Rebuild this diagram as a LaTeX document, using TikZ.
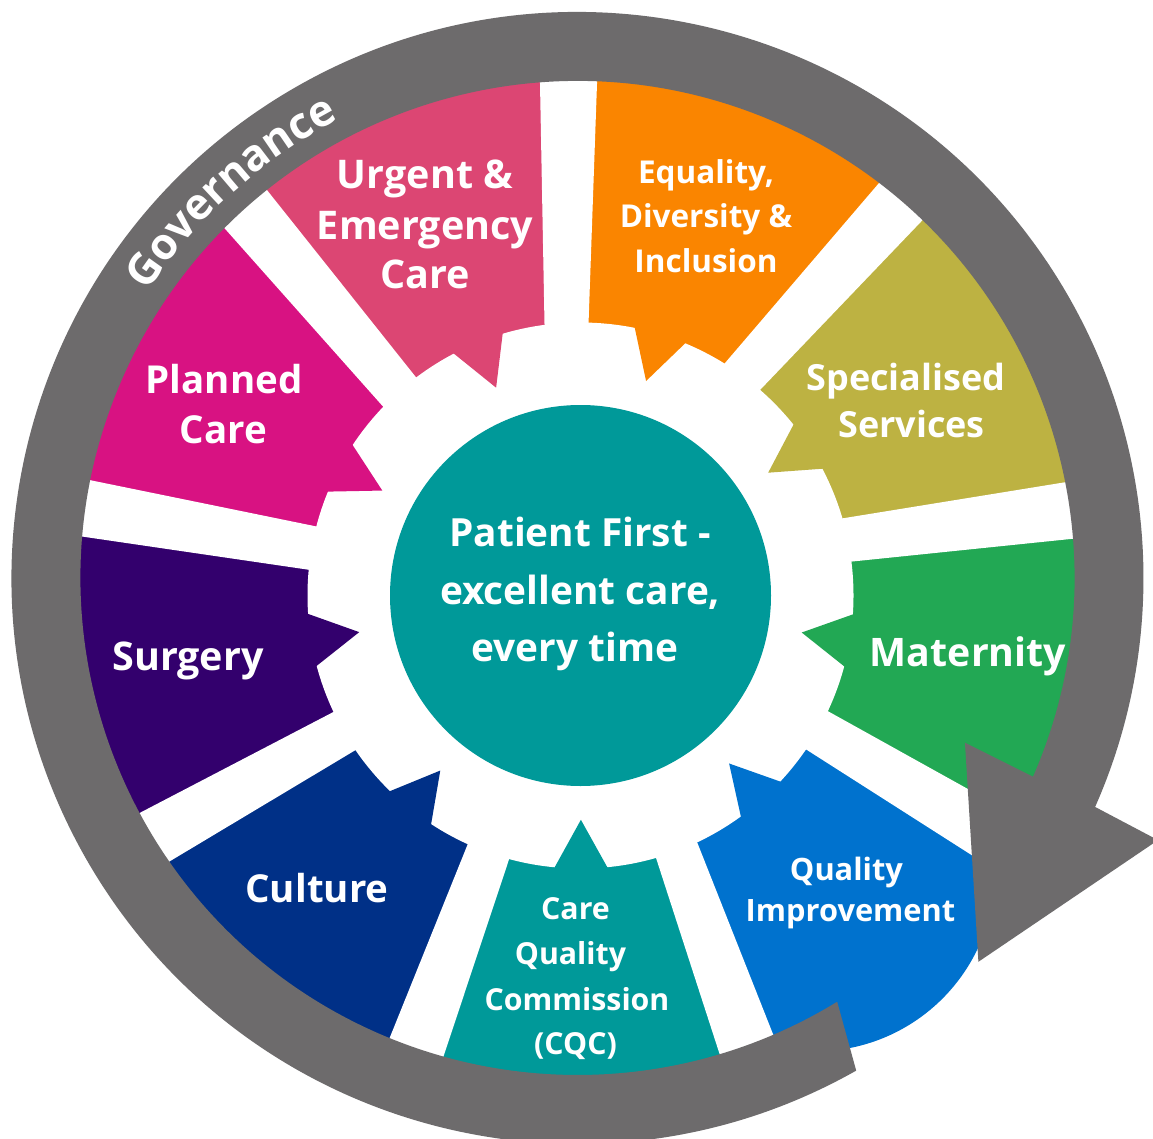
\documentclass[tikz,border=0pt]{standalone}
\usepackage{fontspec}
\setmainfont{Open Sans}
\usetikzlibrary{calc,decorations.text}
\definecolor{cUrg}{RGB}{220,70,115}
\definecolor{cOra}{RGB}{250,133,0}
\definecolor{cSpe}{RGB}{189,178,66}
\definecolor{cMat}{RGB}{34,168,84}
\definecolor{cQI}{RGB}{0,114,206}
\definecolor{cTeal}{RGB}{0,153,153}
\definecolor{cCul}{RGB}{0,48,135}
\definecolor{cSur}{RGB}{51,0,109}
\definecolor{cPla}{RGB}{216,18,130}
\definecolor{cGray}{RGB}{109,107,108}
\newcommand\fsz[1]{\fontsize{#1}{#1}\selectfont\bfseries}
\newcommand\gapstrip[2]{%
  \coordinate (ga) at ($(#1)!-0.6!(#2)$);
  \coordinate (gb) at ($(#1)!1.35!(#2)$);
  \fill[white] ($(ga)!18.1pt!90:(gb)$) -- ($(ga)!18.1pt!-90:(gb)$) -- ($(gb)!30.8pt!90:(ga)$) -- ($(gb)!30.8pt!-90:(ga)$) -- cycle;}
\newcommand\tooth[2]{%
  \fill[#1] ($(C)+({#2-5.8}:276)$) -- ($(C)+(#2:224.3)$) -- ($(C)+({#2+5.8}:276)$) -- cycle;}
\newcommand\sector[3]{%
  \fill[#1] (O) -- ($(O)+(#2:545)$) arc[start angle=#2, end angle=#3, radius=545] -- cycle;}
\begin{document}
\begin{tikzpicture}[x=1pt,y=1pt,
  lab/.style={text=white, inner sep=0pt, anchor=base}]
\useasboundingbox (0,0) rectangle (1153,-1139);
\clip (0,0) rectangle (1153,-1139);
\fill[white] (0,0) rectangle (1153,-1139);
\coordinate (O) at (577.5,-578);
\coordinate (C) at (580.5,-595.5);
\coordinate (Q) at (815.1,-871.4);
% segments
\sector{cOra}{49.36}{91.04}
\sector{cSpe}{7.82}{49.36}
\sector{cMat}{-31.74}{7.82}
\sector{cTeal}{-108.94}{-70.09}
\sector{cCul}{-148.5}{-108.94}
\sector{cSur}{-188.07}{-148.5}
\sector{cPla}{-228.03}{-188.07}
\sector{cUrg}{91.04}{131.97}
\fill[cQI] (O) -- ($(O)+(-70.09:545)$) -- ($(Q)+(-85:180)$) arc[start angle=-85, end angle=-15, radius=180] -- ($(O)+(-31.74:545)$) -- cycle;
% gaps
\coordinate (g1i) at (566.5,-324);   \coordinate (g1o) at (568.5,-83);
\coordinate (g2i) at (742,-377);     \coordinate (g2o) at (899,-203.5);
\coordinate (g3i) at (846.5,-540);   \coordinate (g3o) at (1069,-510.5);
\coordinate (g4i) at (817,-730.3);   \coordinate (g4o) at (1000.5,-839.7);
\coordinate (g5i) at (676.7,-850.4); \coordinate (g5o) at (746.5,-1044.6);
\coordinate (g6i) at (488.4,-851.7); \coordinate (g6o) at (415.8,-1049.3);
\coordinate (g7i) at (344.9,-730.8); \coordinate (g7o) at (152.7,-838.3);
\coordinate (g8i) at (312,-548);     \coordinate (g8o) at (84,-508);
\coordinate (g9i) at (400,-392.5);   \coordinate (g9o) at (246,-209.5);
\gapstrip{g1i}{g1o}
\gapstrip{g2i}{g2o}
\gapstrip{g3i}{g3o}
\gapstrip{g4i}{g4o}
\gapstrip{g5i}{g5o}
\gapstrip{g6i}{g6o}
\gapstrip{g7i}{g7o}
\gapstrip{g8i}{g8o}
\gapstrip{g9i}{g9o}
% inner white ring and teeth
\fill[white] (C) circle[radius=273];
\tooth{cOra}{73.0}
\tooth{cSpe}{33.2}
\tooth{cMat}{-9.5}
\tooth{cQI}{-48.5}
\tooth{cTeal}{-89.9}
\tooth{cCul}{-128.7}
\tooth{cSur}{-170.6}
\tooth{cPla}{152.1}
\tooth{cUrg}{112.1}
% centre
\fill[cTeal] (C) circle[radius=190.5];
% governance ring with arrow
\fill[cGray] ($(O)+(-58.5:497)$) -- ($(O)+(-60.5:566)$) arc[start angle=-60.5, end angle=-383.86, radius=566]
  -- ($(O)+(-24.3:637)$) -- ($(O)+(-43.75:555)$) -- ($(O)+(-23.03:421)$) -- ($(O)+(-23.57:497)$)
  arc[start angle=-23.57, end angle=301.5, radius=497] -- cycle;
\path[decorate, decoration={text along path, text align=center,
  text={|\fsz{43.5}\color{white}|Governance}}]
  ($(O)+(161.9:517)$) arc[start angle=161.9, end angle=101.9, radius=517];
% labels
\node[lab, font=\fsz{39.5}] (urg1) at (425,-189) {Urgent \&};
\node[lab, font=\fsz{39.5}] (urg2) at (425,-239.5) {Emergency};
\node[lab, font=\fsz{39.5}] (urg3) at (425,-289) {Care};
\node[lab, font=\fsz{31.5}] (edi1) at (706,-183.5) {Equality,};
\node[lab, font=\fsz{31.5}] (edi2) at (706,-228) {Diversity \&};
\node[lab, font=\fsz{31.5}] (edi3) at (706,-272.5) {Inclusion};
\node[lab, font=\fsz{36}] (spe1) at (906,-390.4) {Specialised};
\node[lab, font=\fsz{36}] (spe2) at (911.5,-437) {Services};
\node[lab, font=\fsz{39.3}] (mat) at (968,-666) {Maternity};
\node[lab, font=\fsz{30.8}] (qi1) at (846.5,-880.5) {Quality};
\node[lab, font=\fsz{30.8}] (qi2) at (850.5,-921) {Improvement};
\node[lab, font=\fsz{30.3}] (cqc1) at (575.5,-919.3) {Care};
\node[lab, font=\fsz{30.3}] (cqc2) at (570.5,-964.5) {Quality};
\node[lab, font=\fsz{30.3}] (cqc3) at (577,-1010) {Commission};
\node[lab, font=\fsz{30.3}] (cqc4) at (575.5,-1054) {(CQC)};
\node[lab, font=\fsz{38.5}] (cul) at (317,-902.5) {Culture};
\node[lab, font=\fsz{39.5}] (sur) at (188,-670.5) {Surgery};
\node[lab, font=\fsz{38.5}] (pla1) at (224,-393) {Planned};
\node[lab, font=\fsz{38.5}] (pla2) at (223.5,-443) {Care};
\node[lab, font=\fsz{38.8}] (pf1) at (580,-546.7) {Patient First -};
\node[lab, font=\fsz{38.8}] (pf2) at (580.2,-604) {excellent care,};
\node[lab, font=\fsz{38.8}] (pf3) at (575,-661.5) {every time};
\end{tikzpicture}
\end{document}
